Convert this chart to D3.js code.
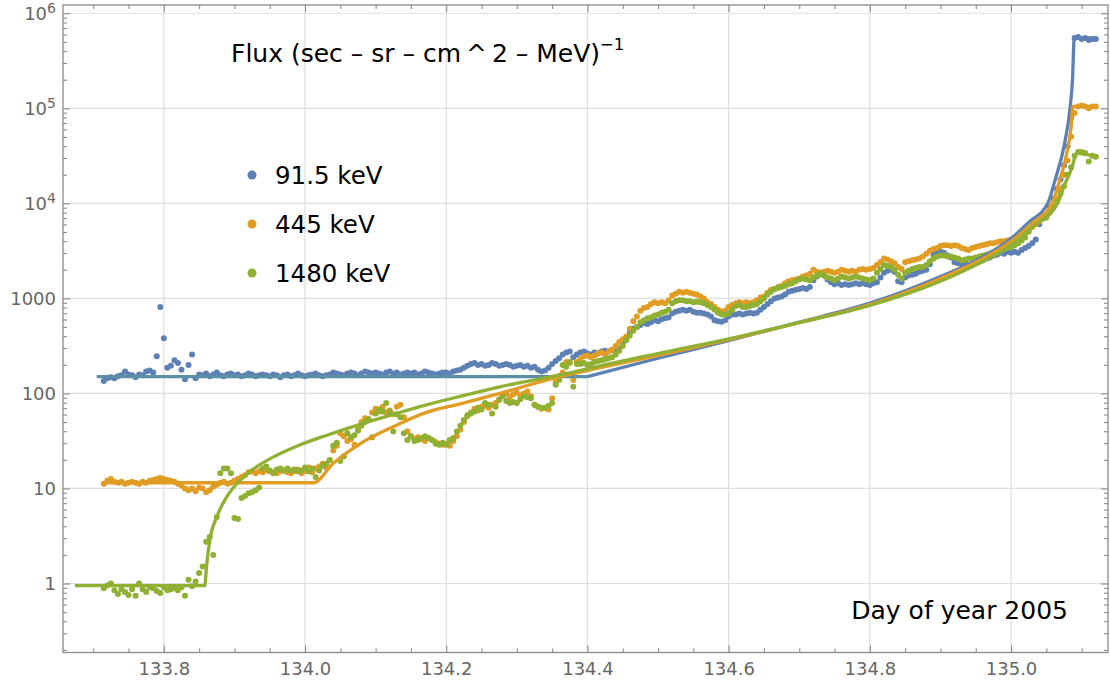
<!DOCTYPE html>
<html><head><meta charset="utf-8">
<script src="https://cdn.jsdelivr.net/npm/d3@7"></script>
<style>body{margin:0;background:#fff} svg{display:block}</style>
</head><body><svg id="chart" width="1110" height="689"></svg>
<script>
// ---------- DATA ----------
const seriesNames = ["91.5 keV", "445 keV", "1480 keV"];
const startDay = 133.715, stepDay = 0.005;   // sampling grid of the measurements (day of year 2005)
// log10 of flux, one value per sample
const blueLog = [
2.13,2.16,2.17,2.16,2.18,2.19,2.23,2.20,2.19,2.17,
2.20,2.19,2.23,2.24,2.22,2.39,2.91,2.58,2.27,2.29,
2.35,2.32,2.25,2.15,2.30,2.41,2.16,2.20,2.19,2.21,
2.18,2.20,2.22,2.19,2.18,2.20,2.21,2.19,2.20,2.18,
2.19,2.21,2.20,2.18,2.19,2.20,2.19,2.18,2.20,2.19,
2.17,2.19,2.20,2.18,2.19,2.21,2.19,2.18,2.19,2.20,
2.21,2.19,2.18,2.19,2.20,2.22,2.21,2.20,2.19,2.21,
2.22,2.21,2.19,2.21,2.23,2.22,2.21,2.22,2.21,2.20,
2.22,2.23,2.21,2.22,2.20,2.21,2.22,2.21,2.22,2.20,
2.21,2.23,2.22,2.21,2.20,2.21,2.22,2.22,2.21,2.23,
2.24,2.25,2.27,2.29,2.31,2.32,2.30,2.31,2.29,2.30,
2.32,2.31,2.29,2.30,2.31,2.30,2.28,2.29,2.30,2.28,
2.29,2.27,2.28,2.25,2.23,2.24,2.27,2.31,2.34,2.37,
2.41,2.43,2.44,2.38,2.41,2.43,2.44,2.42,2.41,2.43,
2.42,2.44,2.45,2.44,2.46,2.44,2.47,2.53,2.58,2.64,
2.68,2.70,2.72,2.74,2.73,2.75,2.77,2.76,2.78,2.79,
2.80,2.84,2.86,2.87,2.88,2.87,2.88,2.86,2.85,2.85,
2.84,2.83,2.81,2.77,2.76,2.755,2.77,2.81,2.83,2.83,
2.84,2.83,2.84,2.85,2.84,2.85,2.88,2.91,2.94,2.97,
3.00,3.01,3.02,3.04,3.07,3.08,3.09,3.10,3.11,3.10,
3.12,3.19,3.23,3.26,3.24,3.20,3.17,3.15,3.16,3.14,
3.15,3.14,3.15,3.16,3.15,3.16,3.15,3.14,3.16,3.17,
3.22,3.27,3.29,3.30,3.28,3.18,3.17,3.22,3.24,3.25,
3.26,3.28,3.29,3.30,3.36,3.46,3.48,3.49,3.48,3.45,
3.43,3.38,3.37,3.36,3.37,3.35,3.37,3.40,3.41,3.40,
3.42,3.43,3.45,3.46,3.48,3.47,3.49,3.48,3.49,3.48,
3.51,3.53,3.55,3.58,3.62,3.78,3.84,3.88,3.96,4.05,
4.15,4.25,4.40,4.60,4.90,5.74,5.75,5.73,5.74,5.72,
5.73,5.73];
const orangeLog = [
1.05,1.08,1.10,1.07,1.06,1.07,1.05,1.06,1.07,1.06,
1.05,1.07,1.06,1.08,1.09,1.10,1.11,1.10,1.09,1.08,
1.07,1.05,1.03,1.00,0.98,1.00,0.97,1.01,1.00,0.96,
0.98,1.02,1.04,1.06,1.07,1.05,1.06,1.08,1.10,1.12,
1.14,1.17,1.18,1.16,1.18,1.17,1.19,1.18,1.17,1.16,
1.18,1.19,1.17,1.16,1.18,1.20,1.16,1.18,1.22,1.17,
1.21,1.23,1.26,1.22,1.30,1.40,1.45,1.58,1.55,1.50,
1.52,1.46,1.62,1.70,1.74,1.72,1.80,1.84,1.81,1.86,
1.80,1.82,1.78,1.86,1.88,1.75,1.60,1.55,1.52,1.54,
1.52,1.50,1.53,1.51,1.49,1.47,1.46,1.47,1.45,1.50,
1.55,1.62,1.70,1.76,1.80,1.84,1.82,1.86,1.87,1.85,
1.88,1.90,1.94,1.98,2.00,1.96,1.99,2.01,1.98,2.00,
2.02,1.97,1.88,1.86,1.84,1.85,1.83,1.95,2.12,2.18,
2.22,2.33,2.32,2.14,2.33,2.36,2.39,2.40,2.38,2.40,
2.42,2.43,2.41,2.44,2.46,2.50,2.54,2.57,2.60,2.68,
2.76,2.81,2.87,2.90,2.91,2.94,2.96,2.95,2.96,2.95,
2.98,3.03,3.05,3.07,3.06,3.07,3.06,3.05,3.04,3.02,
3.00,2.96,2.94,2.91,2.88,2.86,2.87,2.91,2.93,2.95,
2.96,2.95,2.96,2.95,2.96,2.98,3.01,3.02,3.06,3.09,
3.10,3.12,3.13,3.16,3.18,3.19,3.20,3.21,3.23,3.24,
3.26,3.30,3.28,3.27,3.28,3.29,3.28,3.27,3.28,3.30,
3.29,3.28,3.29,3.28,3.30,3.31,3.30,3.31,3.32,3.35,
3.38,3.42,3.41,3.39,3.37,3.33,3.31,3.38,3.39,3.40,
3.41,3.42,3.44,3.47,3.50,3.52,3.53,3.55,3.56,3.56,
3.55,3.56,3.55,3.53,3.52,3.51,3.53,3.54,3.55,3.56,
3.57,3.58,3.58,3.59,3.60,3.60,3.61,3.62,3.63,3.65,
3.67,3.69,3.72,3.75,3.78,3.81,3.85,3.88,3.92,3.97,
4.05,4.15,4.30,4.45,4.70,4.95,5.02,5.03,5.02,5.00,
5.02,5.02];
const greenLog = [
-0.05,-0.02,0.00,-0.07,-0.11,-0.06,-0.09,-0.12,-0.06,-0.13,
0.00,-0.06,-0.09,-0.04,-0.05,-0.08,-0.10,-0.04,-0.07,-0.06,
-0.05,-0.07,-0.04,-0.13,0.04,-0.03,0.02,0.11,0.18,0.44,
0.49,0.30,0.70,1.16,1.21,1.21,1.16,0.69,0.68,0.90,
0.92,0.95,0.96,0.98,1.01,1.21,1.23,1.19,1.16,1.20,
1.21,1.19,1.21,1.19,1.20,1.18,1.19,1.22,1.18,1.21,
1.12,1.19,1.24,1.26,1.30,1.45,1.48,1.29,1.34,1.58,
1.54,1.56,1.61,1.66,1.70,1.73,1.54,1.79,1.83,1.81,
1.90,1.81,1.60,1.78,1.75,1.58,1.51,1.55,1.50,1.51,
1.53,1.55,1.53,1.51,1.47,1.46,1.48,1.46,1.51,1.53,
1.60,1.66,1.72,1.77,1.79,1.81,1.85,1.83,1.90,1.88,
1.79,1.86,1.93,1.97,1.92,1.90,1.91,1.90,1.94,1.97,
1.96,1.95,1.88,1.86,1.85,1.85,1.87,1.90,2.09,2.14,
2.30,2.28,2.33,2.07,2.31,2.31,2.32,2.30,2.31,2.33,
2.34,2.35,2.36,2.37,2.38,2.41,2.45,2.50,2.56,2.61,
2.66,2.70,2.75,2.77,2.79,2.80,2.82,2.83,2.85,2.86,
2.88,2.95,2.97,2.98,2.98,2.97,2.97,2.96,2.965,2.96,
2.95,2.93,2.91,2.88,2.85,2.83,2.83,2.84,2.88,2.92,
2.93,2.91,2.91,2.92,2.93,2.94,2.97,3.00,3.04,3.07,
3.10,3.11,3.12,3.13,3.15,3.16,3.18,3.20,3.21,3.20,
3.19,3.22,3.24,3.26,3.24,3.22,3.21,3.19,3.21,3.23,
3.22,3.21,3.22,3.23,3.22,3.21,3.20,3.19,3.21,3.27,
3.31,3.35,3.34,3.33,3.30,3.25,3.21,3.27,3.29,3.31,
3.32,3.33,3.33,3.35,3.39,3.42,3.44,3.45,3.45,3.44,
3.44,3.43,3.42,3.40,3.41,3.42,3.42,3.43,3.44,3.45,
3.46,3.47,3.48,3.49,3.50,3.52,3.53,3.54,3.56,3.58,
3.61,3.64,3.70,3.77,3.80,3.83,3.87,3.85,3.91,3.96,
4.02,4.10,4.18,4.30,4.38,4.50,4.54,4.54,4.53,4.44,
4.50,4.49];

// fitted model curves: [day, log10 flux]
const blueFitFlat = [[133.705,2.176],[134.40,2.176]];
const blueFitRise = [[134.40,2.176],[134.5,2.37],[134.6,2.555],[134.7,2.75],[134.8,2.95],[134.85,3.08],[134.9,3.23],[134.95,3.40],[135.0,3.63],[135.025,3.80],[135.052,4.0],[135.0625,4.25],[135.075,4.6],[135.0835,5.0],[135.087,5.3],[135.0895,5.74],[135.122,5.74]];
const orangeFit = [[133.714,1.06],[134.012,1.06],[134.04,1.265],[134.078,1.47],[134.125,1.65],[134.172,1.80],[134.22,1.89],[134.276,2.0],[134.347,2.15],[134.418,2.27],[134.5,2.40],[134.6,2.565],[134.7,2.745],[134.8,2.935],[134.9,3.21],[134.95,3.38],[135.0,3.60],[135.03,3.79],[135.058,4.0],[135.069,4.245],[135.079,4.53],[135.085,4.8],[135.0875,5.02],[135.122,5.02]];
const greenFit = [[133.674,-0.023],[133.858,-0.023],[133.8605,0.18],[133.865,0.45],[133.875,0.70],[133.889,0.91],[133.913,1.12],[133.936,1.25],[133.96,1.35],[133.99,1.45],[134.031,1.56],[134.078,1.675],[134.125,1.78],[134.172,1.88],[134.22,1.97],[134.276,2.07],[134.371,2.21],[134.418,2.29],[134.5,2.42],[134.6,2.575],[134.7,2.745],[134.8,2.925],[134.9,3.18],[134.95,3.35],[135.0,3.56],[135.03,3.75],[135.066,4.0],[135.076,4.2],[135.086,4.37],[135.093,4.53],[135.1,4.52],[135.122,4.50]];

const xTicks = [133.8,134.0,134.2,134.4,134.6,134.8,135.0];
const xTickLabels = ["133.8","134.0","134.2","134.4","134.6","134.8","135.0"];
const yTicks = [1,10,100,1000,1e4,1e5,1e6];
const yTickLabels = ["1","10","100","1000","10^4","10^5","10^6"];
const titleText = "Flux (sec \u2013 sr \u2013 cm\u2009^\u20092 \u2013 MeV)";
const titleExp = "\u22121";
const xAxisNote = "Day of year 2005";

// ---------- STYLE ----------
const colors = ["#5E81B5", "#E19C24", "#8FB032"];
const flatBlueColor = "#5A8FA5";
const FONT = "DejaVu Sans";
const plot = {left: 63, right: 1108, top: 5, bottom: 652.5};

const svg = d3.select("#chart");
const x = d3.scaleLinear().domain([133.6572, 135.1373]).range([plot.left, plot.right]);
const y = d3.scaleLog().domain([Math.pow(10,-0.726), Math.pow(10,6.087)]).range([plot.bottom, plot.top]);

// grid
const grid = svg.append("g");
grid.selectAll("line.v").data(xTicks).join("line")
  .attr("x1", d => x(d)).attr("x2", d => x(d)).attr("y1", plot.top).attr("y2", plot.bottom)
  .attr("stroke", "#dedede").attr("stroke-width", 1.2);
grid.selectAll("line.h").data(yTicks).join("line")
  .attr("y1", d => y(d)).attr("y2", d => y(d)).attr("x1", plot.left).attr("x2", plot.right)
  .attr("stroke", "#dedede").attr("stroke-width", 1.2);

// clip
svg.append("clipPath").attr("id","clip").append("rect")
  .attr("x", plot.left).attr("y", plot.top).attr("width", plot.right-plot.left).attr("height", plot.bottom-plot.top);
const area = svg.append("g").attr("clip-path","url(#clip)");

// points
[blueLog, orangeLog, greenLog].forEach((arr, k) => {
  const pts = arr.map((v, i) => ({t: startDay + i*stepDay, f: Math.pow(10, v)}));
  area.append("g").selectAll("circle").data(pts).join("circle")
    .attr("cx", d => x(d.t)).attr("cy", d => y(d.f)).attr("r", 3)
    .attr("fill", colors[k]);
});

// fit lines
const line = d3.line().x(d => x(d[0])).y(d => y(Math.pow(10, d[1]))).curve(d3.curveMonotoneX);
[[blueFitFlat, flatBlueColor],[blueFitRise, colors[0]],[orangeFit, colors[1]],[greenFit, colors[2]]].forEach(([data, c]) => {
  area.append("path").datum(data).attr("d", line).attr("fill","none")
    .attr("stroke", c).attr("stroke-width", 3.3).attr("stroke-linejoin","round");
});

// minor tick values
const yMinor = [];
for (let d = -1; d <= 6; d++) for (let m = 2; m <= 9; m++) {
  const v = m * Math.pow(10, d);
  if (v > y.domain()[0] && v < y.domain()[1]) yMinor.push(v);
}
const xMinor = d3.range(133.70, 135.14, 0.05).filter(v => !xTicks.some(t => Math.abs(t - v) < 1e-6));

function styleAxis(g) {
  g.select(".domain").remove();
  g.selectAll(".tick line").attr("stroke", "#8a8a8a").attr("stroke-width", 1.1);
  g.selectAll(".tick text").attr("fill", "#666").attr("font-family", FONT).attr("font-size", 18);
}

// left axis
svg.append("g").attr("transform", `translate(${plot.left},0)`)
  .call(d3.axisLeft(y).tickValues(yMinor).tickSize(-4).tickFormat(""))
  .call(styleAxis);
svg.append("g").attr("transform", `translate(${plot.left},0)`)
  .call(d3.axisLeft(y).tickValues(yTicks).tickSize(-7).tickPadding(7)
    .tickFormat((d, i) => yTickLabels[i]))
  .call(styleAxis)
  .call(g => g.selectAll(".tick text").each(function(d, i) {
    const s = yTickLabels[i];
    if (s.includes("^")) {
      const [b, e] = s.split("^");
      const t = d3.select(this).text(b);
      t.append("tspan").attr("dy", "-0.5em").attr("font-size", 14).text(e);
    }
  }));
// right axis
svg.append("g").attr("transform", `translate(${plot.right},0)`)
  .call(d3.axisRight(y).tickValues(yMinor).tickSize(-4).tickFormat("")).call(styleAxis);
svg.append("g").attr("transform", `translate(${plot.right},0)`)
  .call(d3.axisRight(y).tickValues(yTicks).tickSize(-7).tickFormat("")).call(styleAxis);
// bottom axis
svg.append("g").attr("transform", `translate(0,${plot.bottom})`)
  .call(d3.axisBottom(x).tickValues(xMinor).tickSize(-4).tickFormat("")).call(styleAxis);
svg.append("g").attr("transform", `translate(0,${plot.bottom})`)
  .call(d3.axisBottom(x).tickValues(xTicks).tickSize(-7).tickPadding(10)
    .tickFormat((d, i) => xTickLabels[i]))
  .call(styleAxis);
// top axis
svg.append("g").attr("transform", `translate(0,${plot.top})`)
  .call(d3.axisTop(x).tickValues(xMinor).tickSize(-4).tickFormat("")).call(styleAxis);
svg.append("g").attr("transform", `translate(0,${plot.top})`)
  .call(d3.axisTop(x).tickValues(xTicks).tickSize(-7).tickFormat("")).call(styleAxis);

// frame
svg.append("rect").attr("x", plot.left).attr("y", plot.top)
  .attr("width", plot.right - plot.left).attr("height", plot.bottom - plot.top)
  .attr("fill", "none").attr("stroke", "#8a8a8a").attr("stroke-width", 1.3);

// title
const title = svg.append("text").attr("x", 231).attr("y", 62)
  .attr("font-family", FONT).attr("font-size", 25).attr("fill", "#000").text(titleText);
title.append("tspan").attr("dy", -12).attr("font-size", 16.5).text(titleExp);

// legend
const lg = svg.append("g");
seriesNames.forEach((n, k) => {
  const yy = 175 + k * 49;
  lg.append("circle").attr("cx", 252).attr("cy", yy).attr("r", 4.5).attr("fill", colors[k]);
  lg.append("text").attr("x", 275).attr("y", yy + 8.5).attr("font-family", FONT)
    .attr("font-size", 24.5).attr("fill", "#000").text(n);
});

// x note
svg.append("text").attr("x", 1068).attr("y", 619).attr("text-anchor", "end")
  .attr("font-family", FONT).attr("font-size", 25).attr("fill", "#000").text(xAxisNote);
</script>
</body></html>
